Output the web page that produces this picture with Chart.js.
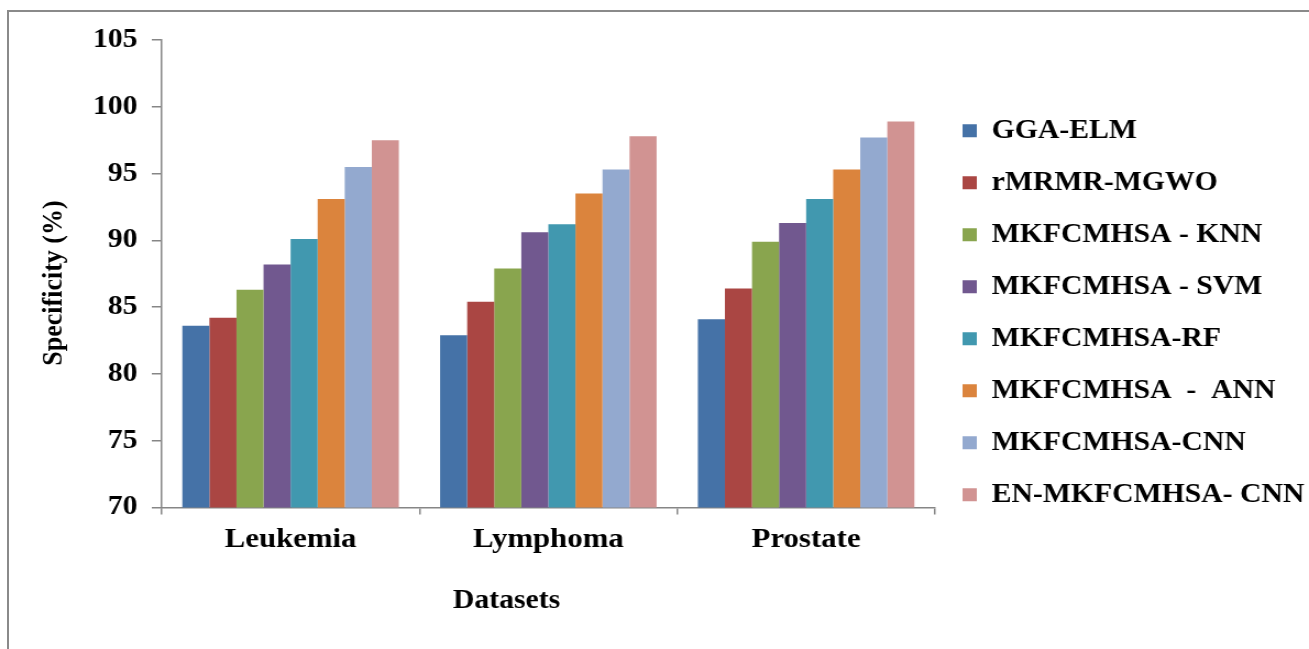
<!DOCTYPE html>
<html>
<head>
<meta charset="utf-8">
<script src="https://cdn.jsdelivr.net/npm/chart.js@4/dist/chart.umd.min.js"></script>
<style>
  html, body { margin: 0; padding: 0; background: #ffffff; overflow: hidden; }
  #frame {
    position: absolute; left: 7px; top: 10px; width: 1310px; height: 650px;
    border-top: 2px solid #8a8a8a; border-left: 2px solid #8a8a8a;
  }
  /* the figure is laid out a little narrower and widened to the page width */
  #wrap {
    position: absolute; left: 0; top: 0; width: 1190px; height: 649px;
    transform: scaleX(1.1); transform-origin: 0 0;
  }
</style>
</head>
<body>
<div id="frame"></div>
<div id="wrap"><canvas id="chart"></canvas></div>
<script>
const datasets = ['Leukemia', 'Lymphoma', 'Prostate'];

const methods = [
  'GGA-ELM',
  'rMRMR-MGWO',
  'MKFCMHSA - KNN',
  'MKFCMHSA - SVM',
  'MKFCMHSA-RF',
  'MKFCMHSA  -  ANN',
  'MKFCMHSA-CNN',
  'EN-MKFCMHSA- CNN'
];

// specificity (%) per method, in dataset order
const ggaElm        = [83.6, 82.9, 84.1];
const rmrmrMgwo     = [84.2, 85.4, 86.4];
const mkfcmhsaKnn   = [86.3, 87.9, 89.9];
const mkfcmhsaSvm   = [88.2, 90.6, 91.3];
const mkfcmhsaRf    = [90.1, 91.2, 93.1];
const mkfcmhsaAnn   = [93.1, 93.5, 95.3];
const mkfcmhsaCnn   = [95.5, 95.3, 97.7];
const enMkfcmhsaCnn = [97.5, 97.8, 98.9];

const yTicks = [70, 75, 80, 85, 90, 95, 100, 105];

const seriesValues = [ggaElm, rmrmrMgwo, mkfcmhsaKnn, mkfcmhsaSvm,
                      mkfcmhsaRf, mkfcmhsaAnn, mkfcmhsaCnn, enMkfcmhsaCnn];
const palette = ['#4572A7', '#AA4643', '#89A54E', '#71588F',
                 '#4198AF', '#DB843D', '#93A9CF', '#D19392'];

const SERIF = '"Liberation Serif", "Times New Roman", "DejaVu Serif", serif';
const AXIS_GREY = '#868686';

// axis captions: "Datasets" under the category axis, "Specificity (%)" beside the value axis
const axisCaptions = {
  id: 'axisCaptions',
  afterDraw(chart) {
    const { ctx, chartArea } = chart;
    ctx.save();
    ctx.fillStyle = '#000';
    ctx.textAlign = 'center';
    ctx.textBaseline = 'middle';
    ctx.font = 'bold 27px ' + SERIF;
    ctx.fillText('Datasets', chartArea.left + 0.446 * (chartArea.right - chartArea.left), 601);
    ctx.translate(49, 283);
    ctx.rotate(-Math.PI / 2);
    ctx.font = 'bold 26px ' + SERIF;
    ctx.fillText('Specificity (%)', 0, 0);
    ctx.restore();
  }
};

new Chart(document.getElementById('chart'), {
  type: 'bar',
  data: {
    labels: datasets,
    datasets: methods.map((name, i) => ({
      label: name,
      data: seriesValues[i],
      backgroundColor: palette[i],
      borderWidth: 0,
      categoryPercentage: 0.84,
      barPercentage: 1.0
    }))
  },
  options: {
    responsive: true,
    maintainAspectRatio: false,
    animation: false,
    layout: { padding: { left: 0, top: 40, right: 0, bottom: 63.5 } },
    plugins: {
      tooltip: { enabled: false },
      legend: {
        position: 'right',
        maxWidth: 340,
        labels: {
          boxWidth: 13,
          boxHeight: 13,
          padding: 25,
          color: '#000',
          font: { family: SERIF, size: 27, weight: 'bold' }
        }
      }
    },
    scales: {
      x: {
        afterFit(scale) { scale.height = 78; },
        grid: {
          display: true, drawOnChartArea: false, drawTicks: true,
          tickLength: 7, color: AXIS_GREY, lineWidth: 1.5
        },
        border: { display: true, color: AXIS_GREY, width: 1.5 },
        ticks: {
          color: '#000', padding: 8,
          font: { family: SERIF, size: 28, weight: 'bold' }
        }
      },
      y: {
        min: 70,
        max: 105,
        afterFit(scale) { scale.width = 147; },
        afterBuildTicks(scale) { scale.ticks = yTicks.map(v => ({ value: v })); },
        grid: {
          display: true, drawOnChartArea: false, drawTicks: true,
          tickLength: 9, color: AXIS_GREY, lineWidth: 1.5
        },
        border: { display: true, color: AXIS_GREY, width: 1.5 },
        ticks: {
          color: '#000', padding: 13,
          font: { family: SERIF, size: 27, weight: 'bold' }
        }
      }
    }
  },
  plugins: [axisCaptions]
});
</script>
</body>
</html>
